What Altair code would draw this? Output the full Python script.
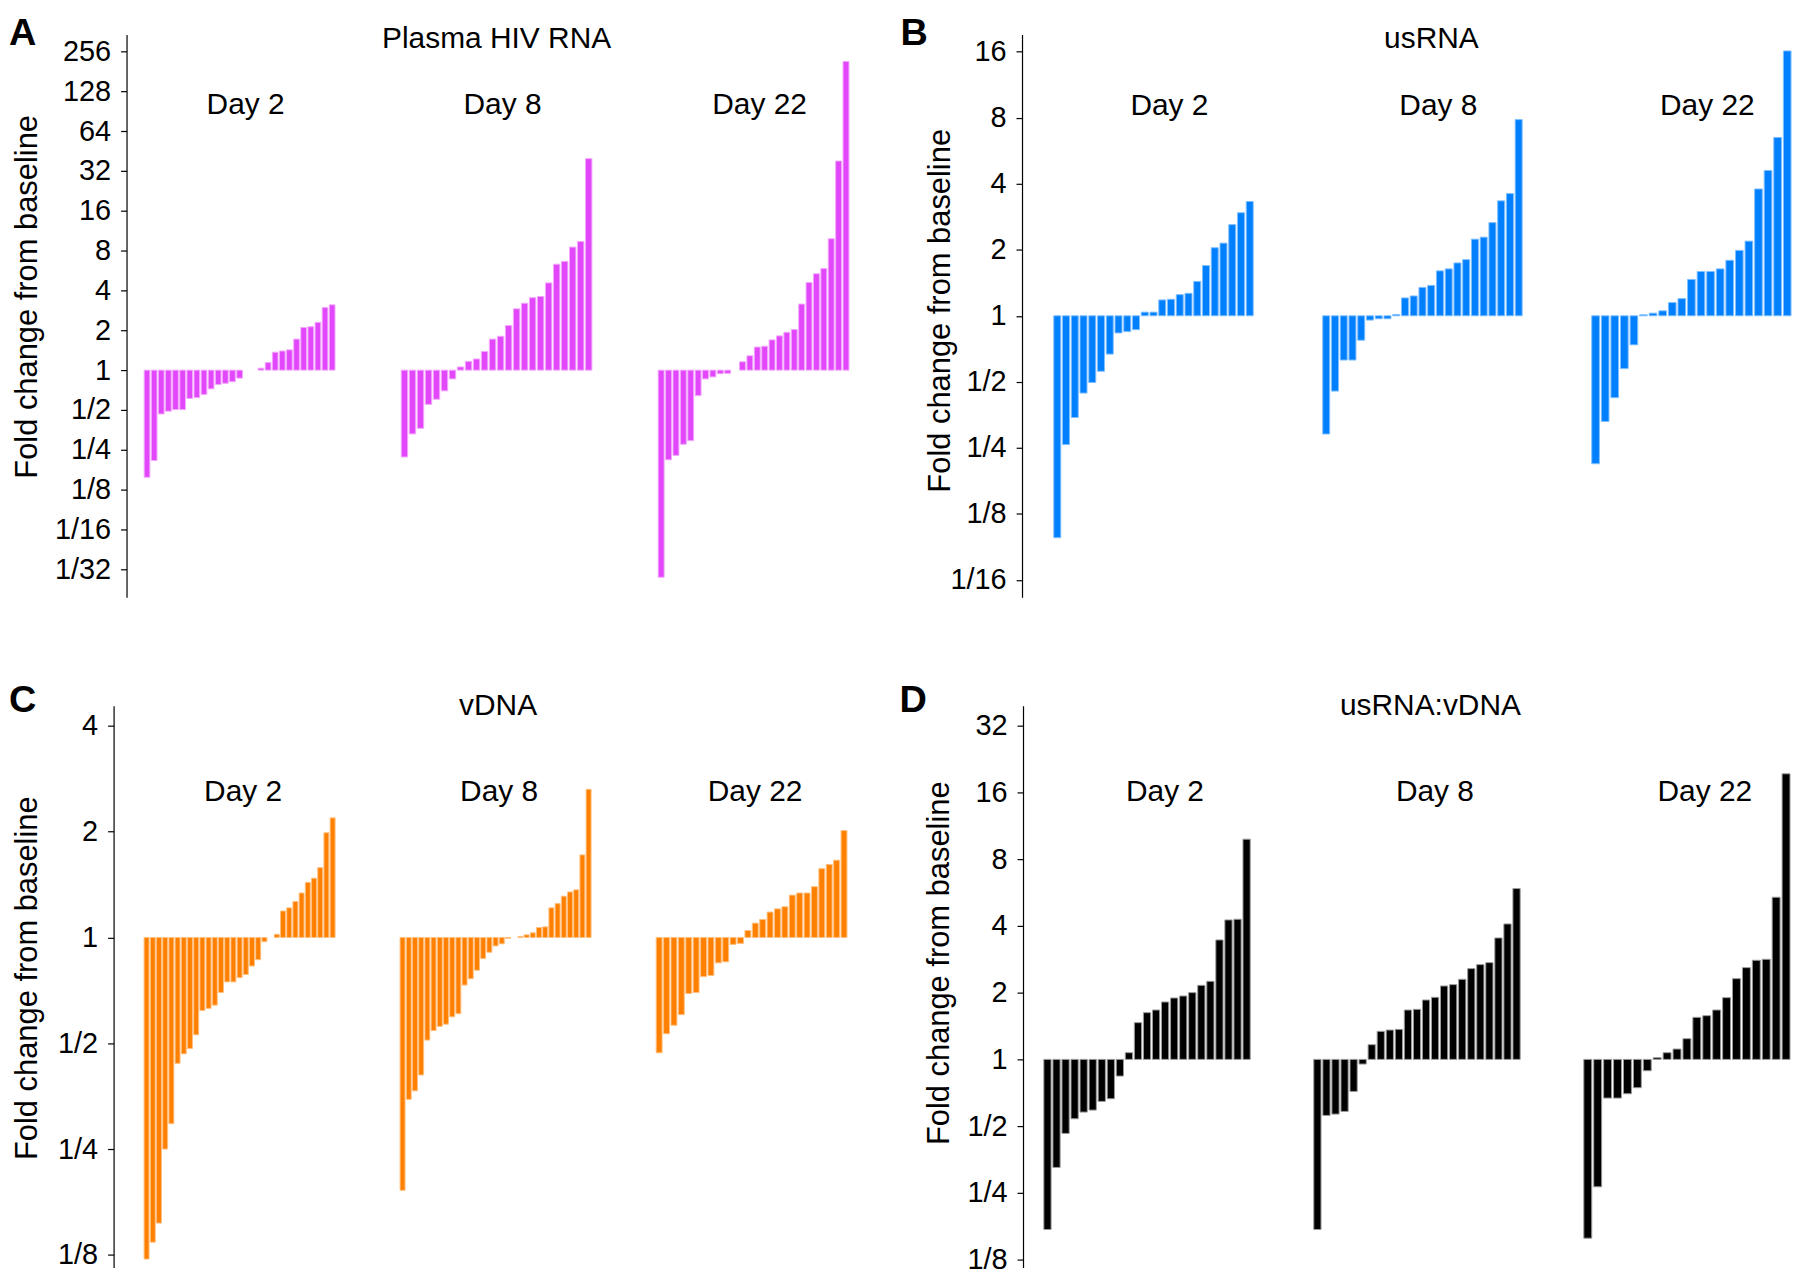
import altair as alt
import pandas as pd

FONT = "Liberation Sans"
days = ["Day 2", "Day 8", "Day 22"]

# log2 fold change from baseline, one bar per participant (sorted)
plasma_day2 = [-2.69, -2.27, -1.10, -1.03, -0.99, -0.99, -0.71, -0.69, -0.61, -0.47, -0.36, -0.33, -0.29, -0.20,
               0, 0, 0.05, 0.19, 0.45, 0.48, 0.51, 0.78, 1.07, 1.09, 1.20, 1.57, 1.64]
plasma_day8 = [-2.18, -1.60, -1.46, -0.86, -0.73, -0.52, -0.22, 0.08, 0.22, 0.28, 0.47, 0.78, 0.85, 1.12,
               1.54, 1.68, 1.82, 1.85, 2.19, 2.66, 2.73, 3.09, 3.23, 5.31]
plasma_day22 = [-5.20, -2.25, -2.14, -1.86, -1.77, -0.64, -0.22, -0.17, -0.09, -0.08, 0, 0.21, 0.36, 0.58,
                0.60, 0.76, 0.86, 0.95, 1.02, 1.66, 2.20, 2.42, 2.55, 3.30, 5.25, 7.75]

usrna_day2 = [-3.36, -1.95, -1.54, -1.17, -1.01, -0.84, -0.58, -0.26, -0.24, -0.21, 0.055, 0.055, 0.24,
              0.25, 0.32, 0.34, 0.52, 0.76, 1.03, 1.10, 1.38, 1.56, 1.73]
usrna_day8 = [-1.79, -1.14, -0.67, -0.67, -0.37, -0.065, -0.045, -0.045, 0.02, 0.27, 0.30, 0.43, 0.46,
              0.68, 0.71, 0.80, 0.85, 1.16, 1.19, 1.41, 1.74, 1.85, 2.97]
usrna_day22 = [-2.24, -1.60, -1.24, -0.80, -0.44, 0.015, 0.04, 0.075, 0.20, 0.26, 0.55, 0.67, 0.67, 0.71,
               0.84, 0.99, 1.13, 1.92, 2.20, 2.70, 4.01]

vdna_day2 = [-3.04, -2.88, -2.70, -2.00, -1.76, -1.19, -1.10, -1.05, -0.92, -0.69, -0.67, -0.64, -0.52,
             -0.42, -0.42, -0.38, -0.35, -0.27, -0.21, -0.04, 0, 0.03, 0.25, 0.28, 0.34, 0.42, 0.52, 0.56,
             0.66, 0.99, 1.13]
vdna_day8 = [-2.39, -1.53, -1.45, -1.30, -0.97, -0.88, -0.84, -0.82, -0.75, -0.72, -0.45, -0.39, -0.31,
             -0.20, -0.14, -0.08, -0.06, -0.01, 0, 0.01, 0.025, 0.044, 0.094, 0.10, 0.28, 0.32, 0.39, 0.43,
             0.45, 0.78, 1.40]
vdna_day22 = [-1.09, -0.91, -0.83, -0.73, -0.53, -0.52, -0.37, -0.36, -0.24, -0.23, -0.066, -0.056, 0.066,
              0.135, 0.17, 0.24, 0.27, 0.29, 0.40, 0.42, 0.42, 0.48, 0.65, 0.69, 0.73, 1.01]

ratio_day2 = [-2.55, -1.62, -1.11, -0.89, -0.79, -0.76, -0.63, -0.59, -0.25, 0.10, 0.55, 0.70, 0.74, 0.86,
              0.92, 0.95, 1.00, 1.11, 1.17, 1.79, 2.09, 2.10, 3.30]
ratio_day8 = [-2.55, -0.84, -0.82, -0.78, -0.48, -0.07, 0.22, 0.42, 0.44, 0.45, 0.74, 0.75, 0.89, 0.93,
              1.10, 1.12, 1.20, 1.36, 1.42, 1.45, 1.82, 2.03, 2.56]
ratio_day22 = [-2.68, -1.91, -0.58, -0.58, -0.515, -0.425, -0.17, 0.025, 0.10, 0.155, 0.31, 0.63, 0.655,
               0.74, 0.925, 1.21, 1.375, 1.485, 1.50, 2.43, 4.28]

LABEL_EXPR = ("datum.value >= 0 ? format(pow(2, datum.value), 'd') : "
              "'1/' + format(pow(2, -datum.value), 'd')")


def make_df(series):
    rows = []
    for day, vals in zip(days, series):
        for i, v in enumerate(vals):
            rows.append({"day": day, "idx": i, "v": v})
    return pd.DataFrame(rows)


def panel(series, color, stroke, lo, hi, ticks, height, width, spacing, axis_offset,
          ytitle_x, ytitle_y, day_x, day_y, title_text, title_x, title_y, letter, letter_dx):
    df = make_df(series)
    base = alt.Chart()
    bars = base.mark_bar(color=color, stroke=stroke, strokeWidth=1).encode(
        x=alt.X("idx:O", axis=None, scale=alt.Scale(paddingInner=0.2, paddingOuter=0.1)),
        y=alt.Y("v:Q",
                scale=alt.Scale(domain=[lo, hi], nice=False, zero=False),
                axis=alt.Axis(values=ticks, labelExpr=LABEL_EXPR,
                              title="Fold change from baseline",
                              titleFont=FONT, titleFontSize=31, titleFontWeight="normal",
                              titleColor="black", titleAngle=270, titleX=ytitle_x, titleY=ytitle_y,
                              titleAlign="center", titleBaseline="middle",
                              labelFont=FONT, labelFontSize=29, labelColor="black",
                              labelPadding=10, labelFlush=False, labelOverlap=False,
                              tickSize=6, tickColor="black", tickWidth=1.2,
                              domainColor="black", domainWidth=1.2,
                              offset=axis_offset, grid=False)),
        y2=alt.datum(0),
        strokeOpacity=alt.when("datum.v === 0").then(alt.value(0)).otherwise(alt.value(1)),
    )
    day_text = base.mark_text(font=FONT, fontSize=30, align="center", baseline="middle",
                              color="black").encode(
        x=alt.value(day_x), y=alt.value(day_y), text="day:N"
    ).transform_filter("datum.idx === 0")
    title = base.mark_text(font=FONT, fontSize=30, align="center", baseline="middle",
                           color="black").encode(
        x=alt.value(title_x), y=alt.value(title_y), text=alt.value(title_text)
    ).transform_filter("datum.idx === 0 && datum.day === 'Day 8'")
    layered = alt.layer(bars, day_text, title).properties(width=width, height=height)
    return layered.facet(
        column=alt.Column("day:N", sort=days, header=None), data=df, spacing=spacing
    ).resolve_scale(x="independent").properties(
        title=alt.Title(letter, anchor="start", frame="bounds", font=FONT, fontSize=38,
                        fontWeight="bold", color="black", offset=-29, dx=letter_dx)
    )


panel_a = panel([plasma_day2, plasma_day8, plasma_day22], "#e247fb", "#f3a8fd",
                -5.7, 8.43, list(range(-5, 9)), 565, 193, 46, 17,
                -99, 263, 102.5, 71, "Plasma HIV RNA", 96.5, 5, "A", -3)
panel_b = panel([usrna_day2, usrna_day8, usrna_day22], "#007fff", "#80bfff",
                -4.26, 4.26, list(range(-4, 5)), 565, 202, 68, 31,
                -82, 277, 117, 71.5, "usRNA", 110, 5, "B", -24)
panel_c = panel([vdna_day2, vdna_day8, vdna_day22], "#ff8000", "#ffc080",
                -3.12, 2.19, list(range(-3, 3)), 564, 193, 64, 30,
                -86, 273, 100, 87, "vDNA", 99, 0.5, "C", -3)
panel_d = panel([ratio_day2, ratio_day8, ratio_day22], "#000000", "#9a9a9a",
                -3.12, 5.30, list(range(-3, 6)), 564, 209, 62, 20,
                -84, 258, 122.5, 87, "usRNA:vDNA", 118, 0.5, "D", -24)

chart = alt.vconcat(
    alt.hconcat(panel_a, panel_b, spacing=51),
    alt.hconcat(panel_c, panel_d, spacing=51),
    spacing=85,
).properties(padding={"left": 0, "top": 5, "right": 0, "bottom": 0}).configure_view(strokeWidth=0)

chart.save("out.html", embed_options={"renderer": "svg", "actions": False})
